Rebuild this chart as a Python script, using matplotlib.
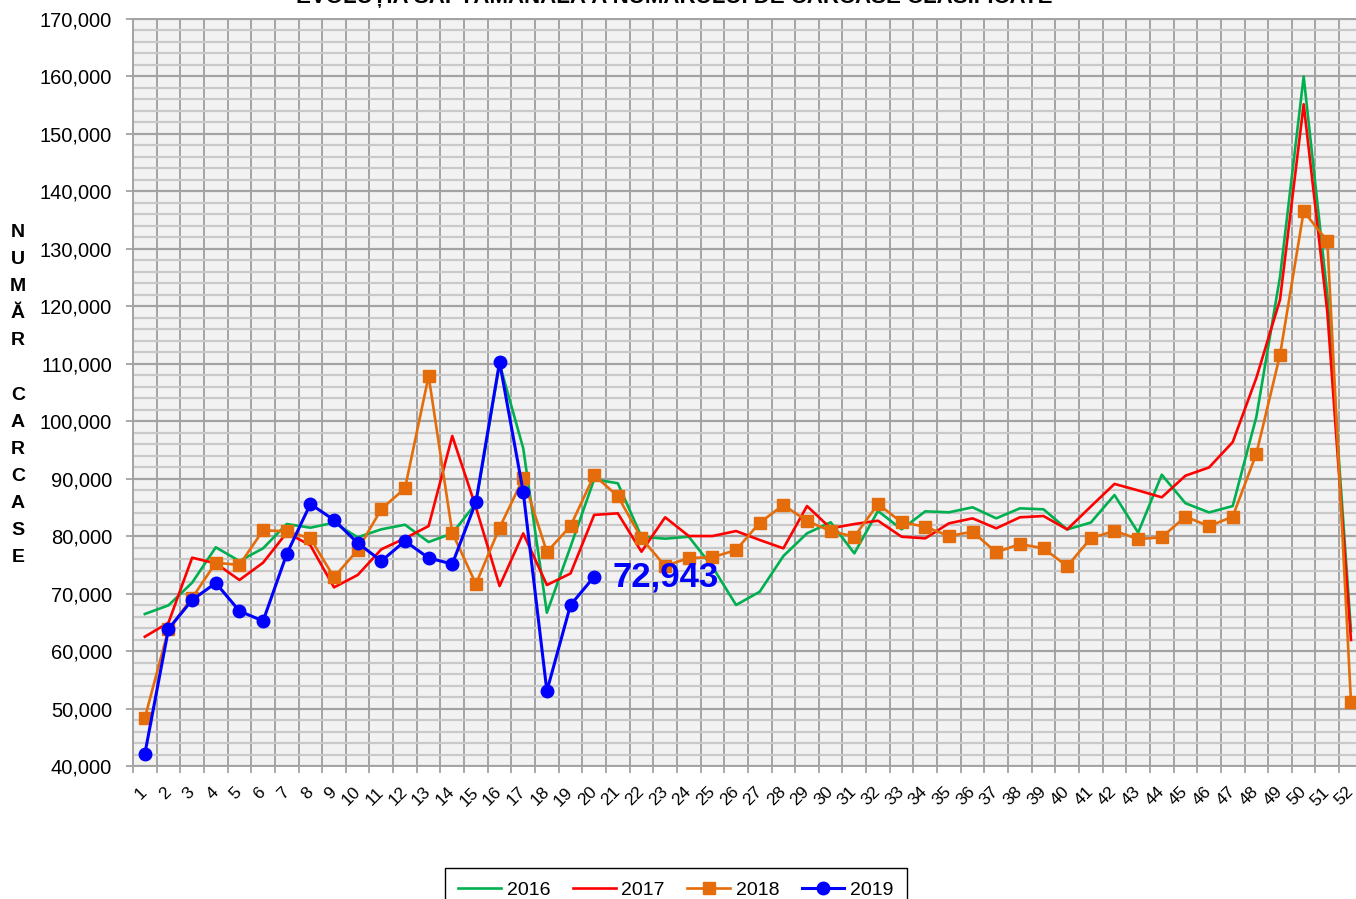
#!/usr/bin/env python3

# Weekly evolution of the number of classified carcasses, 2016 - 2019.

import matplotlib
matplotlib.use('Agg')
import matplotlib.pyplot
import matplotlib.ticker

WEEKS = list(range(1, 53))

YEAR_LABELS = ['2016', '2017', '2018', '2019']

CARCASES_2016 = [66450, 67960, 71900, 78060, 75670, 77880, 82110, 81470, 82340, 79800,
                 81190, 81990, 78980, 80490, 85710, 110000, 95290, 66680, 78160, 89900,
                 89200, 79900, 79560, 79900, 74680, 68020, 70330, 76540, 80490, 82410,
                 77010, 84380, 81190, 84320, 84150, 85020, 83100, 84840, 84670, 81170,
                 82370, 87160, 80620, 90690, 85730, 84130, 85240, 100770, 125150, 160000,
                 122000, 63500]

CARCASES_2017 = [62500, 64940, 76250, 75270, 72370, 75380, 80600, 78400, 71090, 73240,
                 77710, 79620, 81760, 97430, 85000, 71320, 80480, 71500, 73500, 83700,
                 83970, 77290, 83280, 80020, 80020, 80890, 79330, 77880, 85240, 81360,
                 82110, 82690, 79900, 79620, 82230, 83100, 81360, 83280, 83500, 81170,
                 85160, 89090, 87960, 86760, 90520, 91960, 96370, 107560, 121150, 155160,
                 119000, 61930]

CARCASES_2018 = [48350, 63800, 69230, 75380, 74980, 81020, 80840, 79620, 72840, 77590,
                 84720, 88320, 107870, 80600, 71670, 81470, 90070, 77240, 81760, 90600,
                 86950, 79620, 74800, 76200, 76320, 77590, 82340, 85420, 82640, 80890,
                 79900, 85590, 82410, 81640, 80020, 80770, 77180, 78630, 77880, 74770,
                 79640, 80930, 79480, 79810, 83400, 81730, 83400, 94360, 111560, 136520,
                 131380, 51170]

CARCASES_2019 = [42085, 63840, 68890, 71850, 66970, 65230, 76890, 85590, 82810, 78810,
                 75670, 79150, 76200, 75150, 85940, 110300, 87680, 53050, 68020, 72943]

TITLE = 'EVOLUȚIA SĂPTĂMÂNALĂ A NUMĂRULUI DE CARCASE CLASIFICATE'
Y_LABEL = 'N\nU\nM\nĂ\nR\n \nC\nA\nR\nC\nA\nS\nE'

FONT_FAMILY = 'Liberation Sans'

WIDTH = 1356
HEIGHT = 899

GRID_DARK = '#A3A3A3'
GRID_LIGHT = '#C9C9C9'


def main():
    matplotlib.pyplot.rcParams['font.family'] = FONT_FAMILY

    figure = matplotlib.pyplot.figure(figsize = (WIDTH / 100, HEIGHT / 100), dpi = 100)
    figure.patch.set_facecolor('white')

    # Axes run a bit past the right edge, as in the original screenshot.
    left = 133 / WIDTH
    bottom = 1 - 766 / HEIGHT
    axis = figure.add_axes([left, bottom, 1229.8 / WIDTH, (766 - 19) / HEIGHT])
    axis.set_facecolor('#F2F2F2')

    axis.plot(WEEKS, CARCASES_2016, color = '#00B050', linewidth = 1.9, label = YEAR_LABELS[0])
    axis.plot(WEEKS, CARCASES_2017, color = '#FF0000', linewidth = 1.9, label = YEAR_LABELS[1])
    axis.plot(WEEKS, CARCASES_2018, color = '#E46C0A', linewidth = 1.9,
              marker = 's', markersize = 8.5, label = YEAR_LABELS[2])
    axis.plot(WEEKS[:len(CARCASES_2019)], CARCASES_2019, color = '#0000FF', linewidth = 2.2,
              marker = 'o', markersize = 9, label = YEAR_LABELS[3])

    lastWeek = len(CARCASES_2019)
    axis.annotate('{:,}'.format(CARCASES_2019[-1]), xy = (lastWeek, CARCASES_2019[-1]),
                  xytext = (13, 0), textcoords = 'offset points',
                  ha = 'left', va = 'center', fontsize = 25, fontweight = 'bold', color = '#0000FF')

    axis.set_xlim(0.5, 52.5)
    axis.set_ylim(40000, 170000)

    axis.yaxis.set_major_locator(matplotlib.ticker.MultipleLocator(10000))
    axis.yaxis.set_minor_locator(matplotlib.ticker.MultipleLocator(2000))
    axis.yaxis.set_major_formatter(matplotlib.ticker.StrMethodFormatter('{x:,.0f}'))

    axis.set_xticks(WEEKS, [str(w) for w in WEEKS])
    axis.set_xticks([w - 0.5 for w in WEEKS] + [52.5], minor = True)

    axis.set_axisbelow(True)
    axis.grid(which = 'minor', axis = 'y', color = GRID_LIGHT, linewidth = 1.6)
    axis.grid(which = 'major', axis = 'y', color = GRID_DARK, linewidth = 1.6)
    axis.grid(which = 'minor', axis = 'x', color = GRID_DARK, linewidth = 1.4)

    axis.tick_params(axis = 'y', which = 'major', length = 5, width = 1.3, color = GRID_DARK,
                     pad = 10, labelsize = 14.5)
    axis.tick_params(axis = 'y', which = 'minor', length = 0)
    axis.tick_params(axis = 'x', which = 'major', length = 0, pad = 17, labelsize = 12.5)
    axis.tick_params(axis = 'x', which = 'minor', length = 5, width = 1.3, color = GRID_DARK)

    for label in axis.get_xticklabels():
        label.set_rotation(45)
        label.set_horizontalalignment('right')
        label.set_verticalalignment('center')
        label.set_rotation_mode('anchor')

    for side in axis.spines:
        axis.spines[side].set_color(GRID_DARK)
        axis.spines[side].set_linewidth(1.4)

    # The title sits mostly above the top edge, as in the original.
    figure.text(674 / WIDTH, 1 - 3 / HEIGHT, TITLE, ha = 'center', va = 'baseline',
                fontsize = 16, fontweight = 'bold')

    figure.text(18 / WIDTH, 1 - 395 / HEIGHT, Y_LABEL, ha = 'center', va = 'center',
                fontsize = 14, fontweight = 'bold', linespacing = 1.77)

    legend = axis.legend(loc = 'upper center', bbox_to_anchor = (676 / WIDTH, 1 - 868 / HEIGHT),
                         bbox_transform = figure.transFigure, ncol = 4, fontsize = 14,
                         frameon = True, fancybox = False, edgecolor = 'black',
                         handlelength = 2.2, handletextpad = 0.3, columnspacing = 1.15,
                         borderpad = 0.7, borderaxespad = 0)
    legend.get_frame().set_linewidth(1.0)
    legend.get_frame().set_facecolor('white')
    legend.get_frame().set_alpha(1.0)

    figure.savefig('out.png', dpi = 100)


if (__name__ == '__main__'):
    main()
